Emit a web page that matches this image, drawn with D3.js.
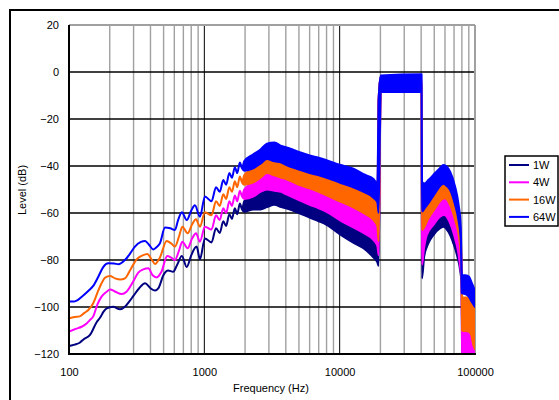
<!DOCTYPE html>
<html>
<head>
<meta charset="utf-8">
<script src="https://d3js.org/d3.v7.min.js"></script>
<style>
  body { margin: 0; background: #fff; }
  svg { display: block; font-family: "Liberation Sans", Arial, sans-serif; }
</style>
</head>
<body>
<div id="chart"></div>
<script>

// series data: [frequency, upper dB, lower dB]; one value = thin line
const s1W = [
  [100,-116.6],[110,-116],[120,-115.2],[128,-113.8],[143,-111.9],[160,-106.5],[170,-104.5],[180,-102],
  [190,-100.6],[212,-99.9],[238,-101],[259,-99.9],[282,-97.3],[299,-95.3],[330,-92],[365,-89.9],
  [400,-92],[432,-93],[458,-92],[499,-86.4],[540,-84.5],[588,-85],[630,-82],[682,-78.3],[741,-83],
  [800,-78],[877,-74.3],[928,-79.7],[1010,-70.8],[1130,-72.5],[1220,-66.5],[1300,-68.5],[1380,-63.5],
  [1450,-65.5],[1530,-60.5],[1600,-62.5],[1680,-58],[1750,-60.5],[1830,-56],[1900,-58.5],
  [1970,-55,-59.5],[2300,-52,-58.5],[2600,-50,-58.5],[2900,-48,-57.5],[3300,-48,-56.5],[3700,-49,-57.5],
  [4000,-50,-58],[5000,-52,-60],[6000,-53.5,-62],[7000,-55,-63.5],[8000,-56,-65],[10000,-58,-69],
  [12500,-60,-72.5],[15000,-62.5,-75],[17800,-65,-79],[19000,-67,-81],[19400,-12,-82.5],
  [20100,-2,-8],[40300,-2,-8],
  [40600,-62,-87.8],[42100,-62,-78.6],[45200,-60,-72.9],[49300,-56,-69.4],[55200,-53,-66.5],
  [58400,-52.5,-65.8],[63600,-55,-68],[69200,-61,-72.9],[74100,-70,-78.6],[77600,-79,-84.3],[79500,-86,-90],
  [80300,-112,-120],[100000,-112,-120]
];

const s4W = [
  [100,-110.5],[112,-109.3],[124,-108.4],[135,-107],[143,-105.5],[151,-104],[162,-99],[174,-95.6],
  [190,-93.5],[201,-92.5],[220,-93.5],[245,-94.5],[266,-93.5],[299,-89],[325,-85.4],[354,-84],
  [385,-83.5],[415,-86.5],[444,-87.4],[482,-85],[532,-78.3],[570,-79],[606,-80],[650,-76],[688,-72.2],
  [753,-75],[810,-71],[868,-68.6],[928,-72.2],[1010,-65.8],[1130,-67],[1220,-61],[1300,-63],[1380,-58],
  [1450,-60],[1530,-55],[1600,-57],[1680,-52.5],[1750,-55],[1830,-50.5],[1900,-53],
  [1970,-50,-54],[2300,-47,-53],[2600,-45,-51],[2900,-42.5,-50],[3300,-42,-50.5],[3700,-43,-51],
  [4000,-44,-52],[5000,-46,-54.5],[6000,-47.5,-56.5],[7000,-48.5,-58],[8000,-49.5,-59.5],[10000,-52,-63],
  [12500,-54,-66],[15000,-56.5,-68.5],[17800,-58.5,-71.5],[19000,-61,-74],[19400,-12,-78],
  [20100,-2,-8],[40300,-2,-8],
  [40600,-55,-82],[42000,-55,-75],[44000,-54,-69.4],[49300,-51,-65.1],[55200,-48,-61.6],
  [59500,-47.5,-60.9],[64700,-50,-63.7],[70100,-56,-69.4],[75400,-65,-77.2],[78500,-75,-85],[79500,-82,-88],
  [80300,-105,-120],[100000,-106,-120]
];

const s16W = [
  [100,-104.8],[110,-104.3],[120,-104],[130,-102.5],[139,-101.3],[151,-98.4],[162,-94],[174,-89.9],
  [185,-87.5],[201,-86.8],[219,-87.8],[240,-88.3],[259,-87.8],[285,-84],[316,-79.7],[350,-78],
  [379,-77.4],[410,-80],[432,-81.7],[470,-78.9],[527,-71.9],[570,-73],[606,-74.3],[650,-70],[688,-65.8],
  [753,-68.6],[810,-65],[868,-62.7],[928,-65.8],[1010,-59.7],[1130,-61],[1220,-55],[1300,-57],[1380,-52],
  [1450,-54],[1530,-49],[1600,-51],[1680,-46.5],[1750,-49],[1830,-44.5],[1900,-47],
  [1970,-44,-48],[2300,-41,-47],[2600,-39,-45],[2900,-36.5,-43],[3300,-36,-44],[3700,-37,-45],
  [4000,-38,-45.5],[5000,-40,-48],[6000,-41.5,-49.5],[7000,-42.5,-51],[8000,-43.5,-52.5],[10000,-45.5,-55],
  [12500,-47.5,-57.5],[15000,-50,-60],[17800,-52,-63],[19000,-54,-65.5],[19400,-12,-72],
  [20100,-2,-8],[40300,-2,-8],
  [40600,-50,-67.2],[45200,-50,-62.3],[50700,-47,-58],[56800,-44,-54.2],[60100,-44,-53.7],
  [65500,-46,-56.6],[71300,-52,-63],[76700,-62,-71.5],[79000,-75,-80],[79800,-85,-92],
  [80300,-96,-110],[90000,-96,-110.5],[94000,-97,-112],[97000,-99,-116],[100000,-100,-118]
];

const s64W = [
  [100,-97.7],[108,-97.7],[114,-97.3],[125,-95.5],[140,-93],[151,-91],[165,-87],[179,-83],
  [195,-81.4],[215,-81.5],[232,-81.8],[259,-80],[285,-77],[307,-74.3],[340,-72.3],[365,-71.9],
  [390,-73.5],[420,-75.5],[445,-74.5],[470,-72.9],[512,-66.2],[560,-66.5],[606,-67.2],[640,-63],
  [682,-59.7],[741,-63],[800,-59],[852,-56.7],[928,-61.6],[1010,-53],[1130,-55],[1220,-49],[1300,-51],
  [1380,-46],[1450,-48],[1530,-43],[1600,-45],[1680,-40.5],[1750,-43],[1830,-38.5],[1900,-41],
  [1970,-38,-42],[2300,-35,-41],[2600,-33,-39],[2900,-30.5,-37],[3300,-30,-38],[3700,-31.5,-38.5],
  [4000,-32,-39.5],[5000,-34,-41.5],[6000,-35.5,-43],[7000,-36.5,-44],[8000,-37.5,-45],[10000,-39.5,-47],
  [12500,-41,-49],[15000,-43.5,-51],[17800,-45.5,-53.5],[19000,-47.5,-55.5],[19400,-12,-60],
  [20100,-1.5,-8.5],[40300,-1,-8.5],
  [40600,-46.7,-59.4],[42400,-47.4,-58],[45200,-46,-55.9],[50700,-43,-51.6],[55200,-40.8,-48.5],
  [58400,-39.6,-47.6],[61900,-40.3,-48.5],[65500,-42.4,-50.2],[71300,-48.8,-56.6],[75400,-55.9,-63],
  [78500,-65.8,-71.5],[79900,-85.7,-94],
  [80300,-86.4,-94.2],[85000,-86.5,-94.5],[90000,-87,-95.6],[95000,-90,-98],[100000,-93,-100]
];

const seriesNames = ["1W", "4W", "16W", "64W"];
const seriesColors = ["#000080", "#ff00ff", "#ff6600", "#0000ff"];
const seriesData = [s1W, s4W, s16W, s64W];

const yTicks = [-120, -100, -80, -60, -40, -20, 0, 20];
const xTicks = [100, 1000, 10000, 100000];

// drawing area
let W = 559, H = 400;
let plot = {left: 69, right: 475, top: 25, bottom: 354};

let svg = d3.select("#chart").append("svg")
    .attr("width", W)
    .attr("height", H);

// outer frame
svg.append("rect")
    .attr("x", 10).attr("y", 10)
    .attr("width", 600).attr("height", 450)
    .attr("fill", "none")
    .attr("stroke", "#000")
    .attr("stroke-width", 2);

let x = d3.scaleLog()
    .domain([100, 100000])
    .range([plot.left, plot.right]);

let y = d3.scaleLinear()
    .domain([-120, 20])
    .range([plot.bottom, plot.top]);

// vertical grid (log minor = gray, decades = black)
let vTicks = x.ticks();
svg.append("g").selectAll("line")
    .data(vTicks.filter(d => xTicks.indexOf(d) < 0))
    .enter().append("line")
    .attr("x1", d => x(d)).attr("x2", d => x(d))
    .attr("y1", plot.top).attr("y2", plot.bottom)
    .attr("stroke", "#a0a0a0")
    .attr("stroke-width", 1.4);

svg.append("g").selectAll("line")
    .data([1000, 10000])
    .enter().append("line")
    .attr("x1", d => x(d)).attr("x2", d => x(d))
    .attr("y1", plot.top).attr("y2", plot.bottom)
    .attr("stroke", "#000")
    .attr("stroke-width", 1);

// horizontal grid
svg.append("g").selectAll("line")
    .data(yTicks.filter(d => d > -120 && d < 20))
    .enter().append("line")
    .attr("x1", plot.left).attr("x2", plot.right)
    .attr("y1", d => y(d)).attr("y2", d => y(d))
    .attr("stroke", "#000")
    .attr("stroke-width", 1.5);

// top / right border gray
svg.append("line")
    .attr("x1", plot.left).attr("x2", plot.right)
    .attr("y1", plot.top).attr("y2", plot.top)
    .attr("stroke", "#a0a0a0").attr("stroke-width", 2);
svg.append("line")
    .attr("x1", plot.right).attr("x2", plot.right)
    .attr("y1", plot.top).attr("y2", plot.bottom)
    .attr("stroke", "#a0a0a0").attr("stroke-width", 2);

// clip
svg.append("clipPath").attr("id", "clip")
    .append("rect")
    .attr("x", plot.left).attr("y", plot.top)
    .attr("width", plot.right - plot.left)
    .attr("height", plot.bottom - plot.top);

let area = d3.area()
    .x(d => x(d[0]))
    .y1(d => y(d[1]))
    .y0(d => y(d.length > 2 ? d[2] : d[1]))
    .curve(d3.curveMonotoneX);

let lines = svg.append("g").attr("clip-path", "url(#clip)");
seriesData.forEach((s, i) => {
    lines.append("path")
        .datum(s)
        .attr("d", area)
        .attr("fill", seriesColors[i])
        .attr("stroke", seriesColors[i])
        .attr("stroke-width", 2)
        .attr("stroke-linejoin", "round");
});

// left and bottom axis lines
svg.append("line")
    .attr("x1", plot.left).attr("x2", plot.left)
    .attr("y1", plot.top).attr("y2", plot.bottom + 1)
    .attr("stroke", "#000").attr("stroke-width", 2);
svg.append("line")
    .attr("x1", plot.left).attr("x2", plot.right + 1)
    .attr("y1", plot.bottom).attr("y2", plot.bottom)
    .attr("stroke", "#000").attr("stroke-width", 2);

// axes labels
let yAxis = d3.axisLeft(y)
    .tickValues(yTicks)
    .tickSize(0)
    .tickPadding(10);

let yAxisGroup = svg.append("g")
    .attr("transform", "translate(" + plot.left + ",0)")
    .call(yAxis);
yAxisGroup.select(".domain").remove();
yAxisGroup.selectAll("text")
    .attr("font-size", 11)
    .attr("font-family", "Liberation Sans, Arial, sans-serif")
    .attr("fill", "#000");

let xAxis = d3.axisBottom(x)
    .tickValues(xTicks)
    .tickFormat(d3.format("d"))
    .tickSize(0)
    .tickPadding(14);

let xAxisGroup = svg.append("g")
    .attr("transform", "translate(0," + plot.bottom + ")")
    .call(xAxis);
xAxisGroup.select(".domain").remove();
xAxisGroup.selectAll("text")
    .attr("font-size", 11)
    .attr("font-family", "Liberation Sans, Arial, sans-serif")
    .attr("fill", "#000");

svg.append("text")
    .attr("x", 271).attr("y", 392)
    .attr("text-anchor", "middle")
    .attr("font-size", 11)
    .text("Frequency (Hz)");

svg.append("text")
    .attr("transform", "translate(26,190) rotate(-90)")
    .attr("text-anchor", "middle")
    .attr("font-size", 11)
    .text("Level (dB)");

// legend
let legend = svg.append("g");
legend.append("rect")
    .attr("x", 505).attr("y", 156)
    .attr("width", 53).attr("height", 70)
    .attr("fill", "#fff")
    .attr("stroke", "#000")
    .attr("stroke-width", 1.5);

let items = legend.selectAll("g.item")
    .data(seriesNames)
    .enter().append("g")
    .attr("class", "item")
    .attr("transform", (d, i) => "translate(0," + (165 + i * 17.3) + ")");

items.append("line")
    .attr("x1", 509).attr("x2", 529)
    .attr("y1", 0).attr("y2", 0)
    .attr("stroke", (d, i) => seriesColors[i])
    .attr("stroke-width", 2);

items.append("text")
    .attr("x", 533).attr("y", 4)
    .attr("font-size", 11)
    .text(d => d);

</script>
</body>
</html>
